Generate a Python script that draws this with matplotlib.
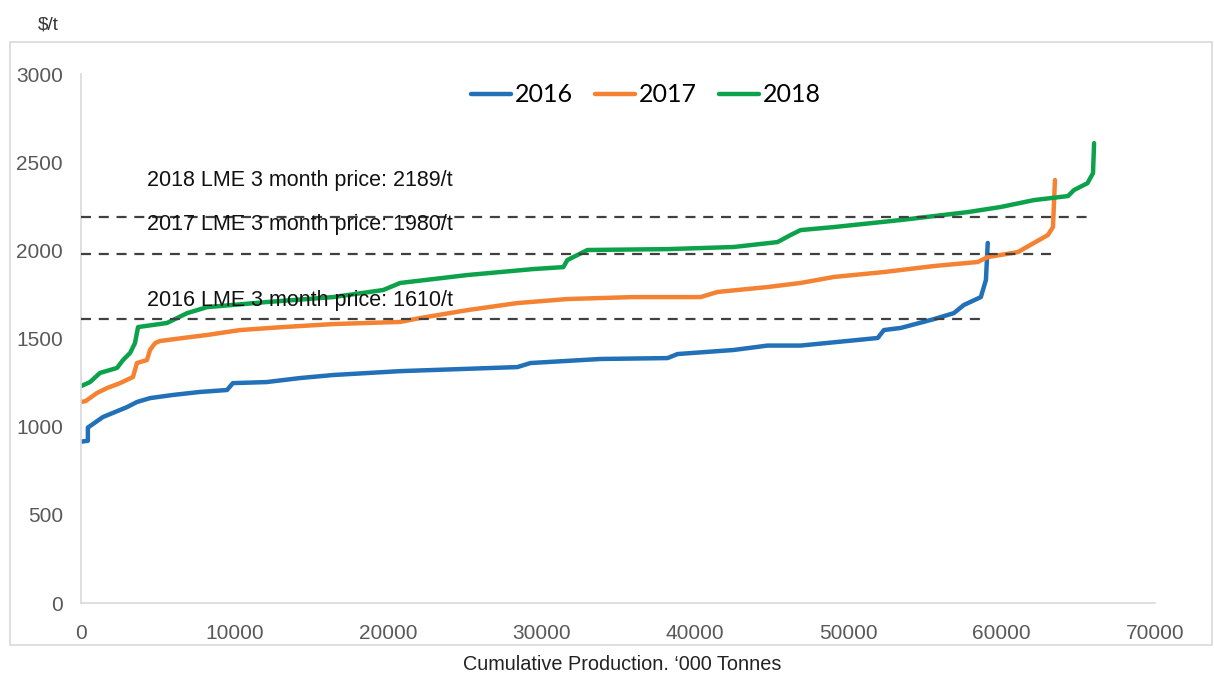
import matplotlib
matplotlib.use("Agg")
import matplotlib.pyplot as plt
from matplotlib.patches import Rectangle

plt.rcParams['font.family'] = ['Liberation Sans', 'DejaVu Sans']

# Cost curve data ('000 t cumulative, $/t)
x_2016 = [0, 450, 450, 1435, 2218, 3000, 3650, 4500, 6000, 7760, 9520, 9900, 12100,
          14300, 16440, 20800, 28440, 29300, 33860, 38230, 38880, 42540, 44750,
          46900, 51930, 52330, 53430, 55590, 56890, 57540, 58650, 58980, 59100]
y_2016 = [915, 920, 995, 1055, 1083, 1111, 1140, 1162, 1180, 1197, 1208, 1247, 1253,
          1276, 1293, 1315, 1338, 1361, 1384, 1389, 1412, 1435, 1460,
          1460, 1503, 1548, 1560, 1610, 1644, 1690, 1735, 1832, 2042]

x_2017 = [0, 300, 1040, 1700, 2545, 3390, 3650, 4300, 4500, 4830, 5150, 6650, 8220,
          10370, 13180, 16440, 20800, 22100, 25180, 28440, 31700, 36000, 40380,
          41490, 44750, 46900, 49060, 52330, 55590, 58450, 59100, 61060, 62110,
          63020, 63350, 63480]
y_2017 = [1140, 1145, 1191, 1219, 1247, 1282, 1361, 1378, 1435, 1474, 1486, 1503, 1520,
          1548, 1565, 1582, 1594, 1616, 1661, 1701, 1724, 1735, 1735,
          1764, 1792, 1815, 1849, 1877, 1911, 1934, 1962, 1990, 2042,
          2087, 2132, 2399]

x_2018 = [0, 590, 1240, 2350, 2740, 3200, 3520, 3720, 5600, 6920, 8220, 12130, 16440,
          19700, 20800, 25180, 29490, 31440, 31700, 33010, 38230, 42540, 45400,
          46250, 46900, 49060, 53430, 57800, 59950, 62110, 64330, 64720, 65600,
          65960, 66030]
y_2018 = [1230, 1253, 1305, 1333, 1378, 1418, 1474, 1565, 1588, 1644, 1678, 1707, 1735,
          1775, 1815, 1860, 1894, 1905, 1945, 2002, 2007, 2019, 2047,
          2087, 2115, 2132, 2172, 2217, 2246, 2285, 2308, 2342, 2381,
          2438, 2608]

years = ['2016', '2017', '2018']
colors = ['#2170b8', '#f58232', '#0ca24b']

lme_prices = [1610, 1980, 2189]
lme_ends = [58650, 63340, 65700]
lme_text_y = [1718, 2149, 2399]

fig = plt.figure(figsize=(12.14, 6.73), dpi=100)
ax = fig.add_axes([0.0667, 0.104, 0.8847, 0.786])

for xs, ys, lab, c in zip([x_2016, x_2017, x_2018], [y_2016, y_2017, y_2018], years, colors):
    ax.plot(xs, ys, color=c, lw=3.2, label=lab, solid_capstyle='round', zorder=2)

for p, xe, ty, yr in zip(lme_prices, lme_ends, lme_text_y, years):
    ax.hlines(p, 0, xe, colors='#404040', linestyles=(0, (4.5, 3.5)), lw=1.6, zorder=3)
    ax.text(4300, ty, f"{yr} LME 3 month price: {p}/t", fontsize=15.5,
            color='#111111', va='center', ha='left', zorder=4)

ax.set_xlim(0, 70000)
ax.set_ylim(0, 3000)
ax.set_xticks(range(0, 70001, 10000))
ax.set_yticks(range(0, 3001, 500))
ax.tick_params(length=0, labelsize=15, labelcolor='#595959')
ax.tick_params(axis='y', pad=13)
ax.tick_params(axis='x', pad=15)
for s in ['top', 'right']:
    ax.spines[s].set_visible(False)
for s in ['left', 'bottom']:
    ax.spines[s].set_color('#d9d9d9')
    ax.spines[s].set_linewidth(1.2)

leg = ax.legend(loc='center', bbox_to_anchor=(646 / 1214, (673 - 95) / 673),
                bbox_transform=fig.transFigure, ncol=3, frameon=False,
                handlelength=1.6, handletextpad=0.15, columnspacing=0.9,
                prop={'family': 'Lato', 'size': 18})

fig.text(622 / 1214, (673 - 665) / 673, "Cumulative Production. \u2018000 Tonnes",
         ha='center', va='center', fontsize=14.3, color='#222222')
fig.text(48 / 1214, (673 - 25) / 673, "$/t", ha='center', va='center',
         fontsize=13.7, color='#333333')

fig.add_artist(Rectangle((10 / 1214, 28 / 673), 1202 / 1214, 603 / 673,
                         transform=fig.transFigure, fill=False,
                         edgecolor='#d9d9d9', lw=1.2))

fig.savefig("out.png", dpi=100)
